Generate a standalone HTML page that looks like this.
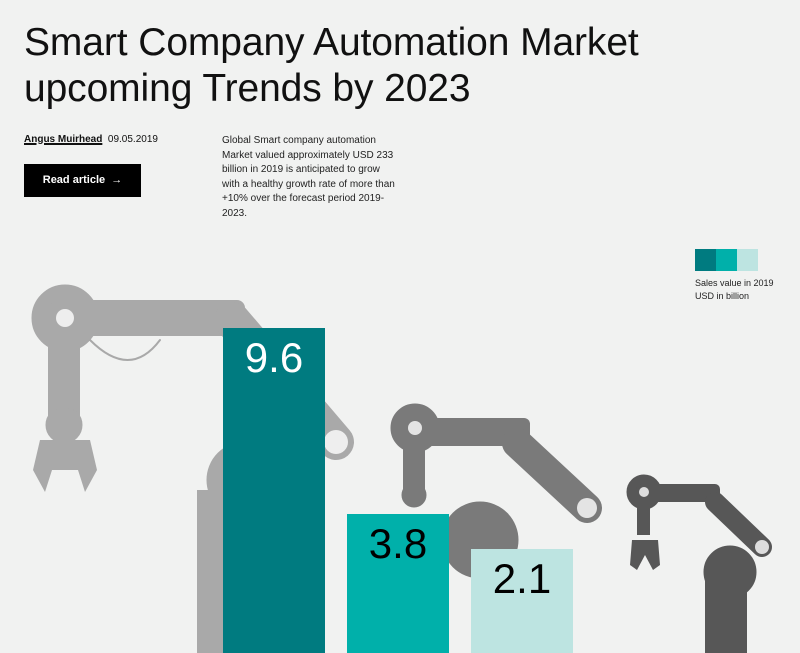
<!DOCTYPE html>
<html><head><meta charset="utf-8"><style>
body{margin:0;width:800px;height:653px;background:#f1f2f1;overflow:hidden;position:relative;font-family:"Liberation Sans",sans-serif}
h1{position:absolute;left:24px;top:20px;margin:0;font-weight:400;font-size:39px;line-height:46px;color:#111;letter-spacing:-0.1px}
.auth{position:absolute;left:24px;top:134px;font-size:10px;color:#111}
.auth b{text-decoration:underline;text-decoration-thickness:2px}
.btn{position:absolute;left:24px;top:164px;width:117px;height:33px;background:#000;color:#fff;font-size:11px;font-weight:700;line-height:33px;text-align:center}
.desc{position:absolute;left:222px;top:134px;width:176px;font-size:10px;line-height:14.5px;color:#222}
.bar{position:absolute;bottom:0;width:102px;text-align:center;font-size:42px;padding-top:6px;box-sizing:border-box}
.lg{position:absolute;top:249px;width:21px;height:22px}
.lt{position:absolute;left:695px;top:277px;font-size:9px;line-height:13px;color:#222}
</style></head><body>
<h1>Smart Company Automation Market<br>upcoming Trends by 2023</h1>
<div class="auth"><b>Angus Muirhead</b>&nbsp; 09.05.2019</div>
<div class="btn">Read article &nbsp;→</div>
<div class="desc">Global Smart company automation Market valued approximately USD 233 billion in 2019 is anticipated to grow with a healthy growth rate of more than +10% over the forecast period 2019-2023.</div>
<svg width="800" height="653" style="position:absolute;left:0;top:0" stroke-linecap="round">
<g fill="#a9a9a9" stroke="#a9a9a9">
<circle cx="65" cy="318" r="33"/>
<rect x="50" y="300" width="195" height="36" rx="8" stroke="none"/>
<line x1="232" y1="320" x2="336" y2="442" stroke-width="36"/>
<rect x="48" y="330" width="32" height="95" stroke="none"/>
<circle cx="64" cy="425" r="18"/>
<path d="M40 440 L90 440 L97 470 L85 492 L78 470 L52 470 L45 492 L33 470Z" stroke="none"/>
<circle cx="245" cy="480" r="38"/>
<rect x="197" y="490" width="30" height="163" stroke="none"/>
<path d="M90 340 Q130 380 160 340" fill="none" stroke-width="2"/>
</g>
<g fill="#7a7a7a" stroke="#7a7a7a">
<circle cx="415" cy="428" r="24"/>
<rect x="405" y="418" width="125" height="28" rx="6" stroke="none"/>
<line x1="517" y1="443" x2="587" y2="508" stroke-width="30"/>
<rect x="403" y="440" width="22" height="60" stroke="none"/>
<circle cx="414" cy="495" r="12"/>
<circle cx="480" cy="540" r="38"/>
</g>
<g fill="#575757" stroke="#575757">
<circle cx="644" cy="492" r="17"/>
<rect x="636" y="484" width="84" height="18" rx="5" stroke="none"/>
<line x1="715" y1="502" x2="762" y2="547" stroke-width="20"/>
<rect x="637" y="495" width="13" height="40" stroke="none"/>
<path d="M632 540 L658 540 L660 565 L653 570 L645 555 L637 570 L630 565Z" stroke="none"/>
<circle cx="730" cy="572" r="26"/>
<rect x="705" y="575" width="42" height="78" stroke="none"/>
</g>
<g fill="#fff" opacity=".8">
<circle cx="65" cy="318" r="9"/><circle cx="415" cy="428" r="7"/><circle cx="644" cy="492" r="5"/>
<circle cx="336" cy="442" r="12"/><circle cx="587" cy="508" r="10"/><circle cx="762" cy="547" r="7"/>
</g>
</svg>
<div class="bar" style="left:223px;height:325px;background:#007b80;color:#fff">9.6</div>
<div class="bar" style="left:347px;height:139px;background:#00b0aa;color:#000">3.8</div>
<div class="bar" style="left:471px;height:104px;background:#bde4e1;color:#000">2.1</div>
<div class="lg" style="left:695px;background:#007b80"></div>
<div class="lg" style="left:716px;background:#00b0aa"></div>
<div class="lg" style="left:737px;background:#bde4e1"></div>
<div class="lt">Sales value in 2019<br>USD in billion</div>
</body></html>
